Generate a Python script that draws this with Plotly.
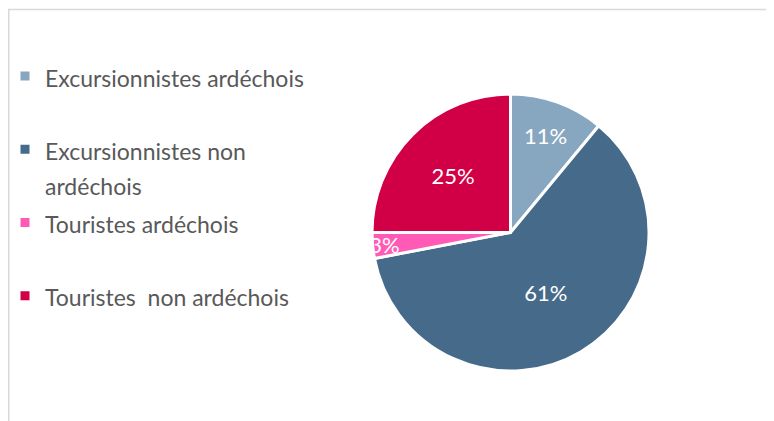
import plotly.graph_objects as go

W, H = 774, 421

labels = ['Excursionnistes ardéchois', 'Excursionnistes non ardéchois',
          'Touristes ardéchois', 'Touristes  non ardéchois']
values = [11, 61, 3, 25]
colors = ['#87a7c1', '#466a89', '#ff5ab6', '#d10046']

# legend texts wrapped like the picture; a trailing blank line pads short items
legendText = []
for lab in labels:
    t = lab.replace('  ', '&nbsp;&nbsp;')
    if lab == 'Excursionnistes non ardéchois':
        t = 'Excursionnistes non<br>ardéchois'
    elif lab != labels[-1]:
        t = t + '<br> '
    span = '<span style="font-size:23px">'
    legendText.append(span + t.replace('<br>', '</span><br>' + span) + '</span>')

fig = go.Figure()

fig.add_trace(go.Pie(labels=legendText, values=values,
                     sort=False, direction='clockwise', rotation=0,
                     marker=dict(colors=colors, line=dict(color='white', width=3)),
                     texttemplate='%{value}%',
                     textposition='inside', insidetextorientation='horizontal',
                     textfont=dict(color='white', size=22, family='Lato'),
                     hovertemplate='%{value}%<extra></extra>',
                     domain=dict(x=[364 / W, 641 / W], y=[1 - 363 / H, 1 - 86 / H])
                     ))

# light grey frame of the chart area (page has an 8px body margin)
fig.add_shape(type='line', xref='paper', yref='paper',
              x0=0, x1=1, y0=1 - 1.5 / H, y1=1 - 1.5 / H,
              line=dict(color='#d9d9d9', width=1.5))
fig.add_shape(type='line', xref='paper', yref='paper',
              x0=0.75 / W, x1=0.75 / W, y0=0, y1=1 - 1.5 / H,
              line=dict(color='#d9d9d9', width=1.5))

fig.update_layout(
    width=W, height=H,
    margin=dict(l=0, r=0, t=0, b=0, autoexpand=False),
    paper_bgcolor='white', plot_bgcolor='white',
    font=dict(family='Lato', color='#595959', size=17),
    uniformtext=dict(mode='show', minsize=22),
    legend=dict(x=-3 / W, y=1 - 44 / H, xanchor='left', yanchor='top',
                valign='top', font=dict(size=27, color='#595959', family='Lato'),
                bgcolor='rgba(0,0,0,0)'),
)

fig.write_html("out.html")
